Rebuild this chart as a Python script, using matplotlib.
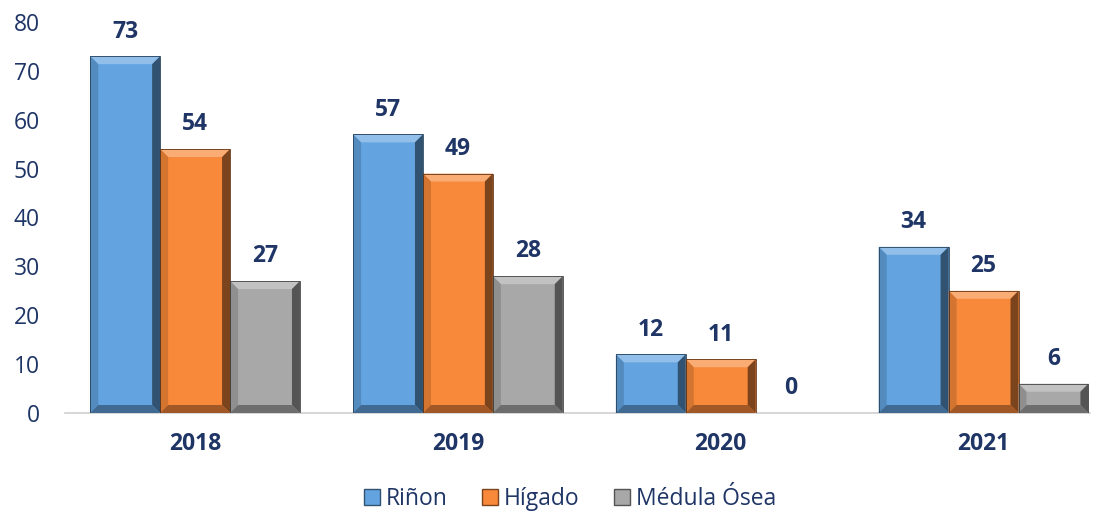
import matplotlib
matplotlib.use("Agg")
import matplotlib.pyplot as plt
from matplotlib.patches import Polygon, Patch
import numpy as np

years = ["2018", "2019", "2020", "2021"]
series = ["Riñon", "Hígado", "Médula Ósea"]
rinon = [73, 57, 12, 34]
higado = [54, 49, 11, 25]
medula = [27, 28, 0, 6]

colors = ["#62A3E0", "#F8883A", "#A8A8A8"]
navy = "#1F3566"
plt.rcParams["font.family"] = ["Open Sans", "DejaVu Sans"]


def shade(c, f):
    rgb = np.array(matplotlib.colors.to_rgb(c))
    if f > 0:
        rgb = rgb + (1 - rgb) * f
    else:
        rgb = rgb * (1 + f)
    return tuple(np.clip(rgb, 0, 1))


fig = plt.figure(figsize=(11.07, 5.13), dpi=100)
ax = fig.add_axes([65 / 1107, (513 - 413) / 513, (1090 - 65) / 1107, 391 / 513])
ax.set_xlim(-0.495, 3.405)
ax.set_ylim(0, 80)

x = np.arange(len(years))
w = 0.266
data = [rinon, higado, medula]

# pixel -> data scale for the bevel
px_x = (3.405 + 0.495) / (1090 - 65)
px_y = 80 / 391
bev = 8

for k, vals in enumerate(data):
    pos = x + (k - 1) * w
    bars = ax.bar(pos, vals, w, color=colors[k], edgecolor="none", zorder=2)
    for b, v in zip(bars, vals):
        if v <= 0:
            continue
        x0, x1 = b.get_x(), b.get_x() + b.get_width()
        y0, y1 = 0, v
        dx = bev * px_x
        dy = min(bev * px_y, v / 2)
        c = colors[k]
        faces = [
            ([(x0, y1), (x1, y1), (x1 - dx, y1 - dy), (x0 + dx, y1 - dy)], shade(c, 0.3)),
            ([(x1, y1), (x1, y0), (x1 - dx, y0 + dy), (x1 - dx, y1 - dy)], shade(c, -0.5)),
            ([(x0, y1), (x0 + dx, y1 - dy), (x0 + dx, y0 + dy), (x0, y0)], shade(c, -0.15)),
            ([(x0, y0), (x0 + dx, y0 + dy), (x1 - dx, y0 + dy), (x1, y0)], shade(c, -0.35)),
        ]
        for pts, fc in faces:
            ax.add_patch(Polygon(pts, closed=True, facecolor=fc, edgecolor="none", zorder=3))
        ax.add_patch(Polygon([(x0, y0), (x0, y1), (x1, y1), (x1, y0)], closed=True,
                             facecolor="none", edgecolor=shade(c, -0.6), lw=0.6, zorder=4))
    for p, v in zip(pos, vals):
        ax.text(p, v + 2.6, str(v), ha="center", va="bottom", fontsize=16.5,
                fontweight="bold", color=navy)

for s in ["top", "right", "left"]:
    ax.spines[s].set_visible(False)
ax.spines["bottom"].set_color("#D0D0D0")
ax.spines["bottom"].set_linewidth(1.2)
ax.set_yticks(range(0, 81, 10))
ax.tick_params(axis="y", length=0, labelsize=16.5, labelcolor=navy, pad=18)
ax.set_xticks(x)
ax.set_xticklabels(years, fontsize=16.5, fontweight="bold", color=navy)
ax.tick_params(axis="x", length=0, pad=14)

handles = [Patch(facecolor=colors[i], edgecolor=shade(colors[i], -0.5)) for i in range(3)]
fig.legend(handles, series, loc="center", bbox_to_anchor=(0.515, 0.027), ncol=3,
           frameon=False, fontsize=16.5, labelcolor=navy, handlelength=0.7,
           handleheight=0.7, handletextpad=0.25, columnspacing=1.5)

fig.savefig("out.png", dpi=100)
